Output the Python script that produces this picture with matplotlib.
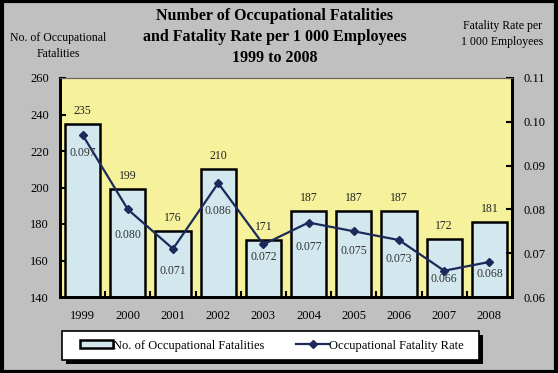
import matplotlib
matplotlib.use("Agg")
import matplotlib.pyplot as plt
from matplotlib.patches import Rectangle
from matplotlib.ticker import FormatStrFormatter

years = ["1999", "2000", "2001", "2002", "2003", "2004", "2005", "2006", "2007", "2008"]
fatalities = [235, 199, 176, 210, 171, 187, 187, 187, 172, 181]
rates = [0.097, 0.080, 0.071, 0.086, 0.072, 0.077, 0.075, 0.073, 0.066, 0.068]

# label offsets below each rate point (pixels), as placed in the original
rate_label_dy = [18, 26, 22, 28, 13, 24, 20, 19, 8, 12]

plt.rcParams["font.family"] = ["Liberation Serif", "DejaVu Serif"]

BG = "#C0C0C0"
PLOT_BG = "#F6F29C"
BAR = "#D2E8EE"
LINE = "#1B2A5A"

fig = plt.figure(figsize=(5.58, 3.73), dpi=100, facecolor=BG)
W, H = 558, 373

ax = fig.add_axes([60 / W, 1 - 297 / H, 452 / W, 219 / H])
ax.set_facecolor(PLOT_BG)

x = list(range(len(years)))
ax.bar(x, fatalities, width=0.78, color=BAR, edgecolor="black", linewidth=1.8, zorder=2)
ax.set_xlim(-0.5, len(years) - 0.5)
ax.set_ylim(140, 260)
ax.set_yticks(range(140, 261, 20))
ax.set_xticks([i + 0.5 for i in x[:-1]])
ax.set_xticklabels([])
ax.tick_params(axis="x", direction="in", length=4, width=1.5)
ax.tick_params(axis="y", direction="in", length=4, width=1.5, labelsize=9, pad=8)
for i, y in enumerate(years):
    ax.text(i, -0.06, y, transform=ax.get_xaxis_transform(), ha="center", va="top", fontsize=9)

for i, v in enumerate(fatalities):
    ax.annotate(str(v), (i, v), xytext=(0, 5), textcoords="offset points",
                ha="center", va="bottom", fontsize=8.5, color="#222222")

ax2 = ax.twinx()
ax2.plot(x, rates, color=LINE, linewidth=1.6, marker="D", markersize=4.5, zorder=3)
ax2.set_ylim(0.06, 0.11)
ax2.set_yticks([0.06, 0.07, 0.08, 0.09, 0.10, 0.11])
ax2.yaxis.set_major_formatter(FormatStrFormatter("%.2f"))
ax2.tick_params(axis="y", direction="in", length=4, width=1.5, labelsize=9, pad=8)
for i, v in enumerate(rates):
    ax2.annotate(f"{v:.3f}", (i, v), xytext=(0, -rate_label_dy[i] * 0.72),
                 textcoords="offset points", ha="center", va="center",
                 fontsize=8.5, color="#333333")

for a in (ax, ax2):
    for side in ("left", "right", "bottom"):
        a.spines[side].set_linewidth(2)
    a.spines["top"].set_color("#666666")
    a.spines["top"].set_linewidth(0.8)

fig.text(275 / W, 1 - 37 / H, "Number of Occupational Fatalities\nand Fatality Rate per 1 000 Employees\n1999 to 2008",
         ha="center", va="center", fontsize=11.5, fontweight="bold", linespacing=1.4)
fig.text(58 / W, 1 - 46 / H, "No. of Occupational\nFatalities", ha="center", va="center",
         fontsize=8.5, linespacing=1.5)
fig.text(502 / W, 1 - 34 / H, "Fatality Rate per\n1 000 Employees", ha="center", va="center",
         fontsize=8.5, linespacing=1.45)

# legend box with black drop shadow
lx0, ly0, lx1, ly1 = 62, 331, 479, 360
fig.patches.append(Rectangle(((lx0 + 4) / W, 1 - (ly1 + 4) / H), (lx1 - lx0) / W, (ly1 - ly0) / H,
                             transform=fig.transFigure, facecolor="black", edgecolor="none"))
fig.patches.append(Rectangle((lx0 / W, 1 - ly1 / H), (lx1 - lx0) / W, (ly1 - ly0) / H,
                             transform=fig.transFigure, facecolor="white", edgecolor="black",
                             linewidth=1.2))

h1 = Rectangle((0, 0), 1, 1, facecolor=BAR, edgecolor="black", linewidth=1.8)
h2, = ax2.plot([], [], color=LINE, linewidth=1.6, marker="D", markersize=4)
fig.legend([h1, h2], ["No. of Occupational Fatalities", "Occupational Fatality Rate"],
           loc="center", bbox_to_anchor=(80 / W, 1 - 360 / H, 384 / W, 29 / H),
           mode="expand", ncol=2, fontsize=9, frameon=False, handlelength=2.6,
           handleheight=0.55, handletextpad=0.05, borderaxespad=0, borderpad=0,
           columnspacing=3)

fig.patches.append(Rectangle((0.003, 0.004), 0.994, 0.992, transform=fig.transFigure,
                             fill=False, edgecolor="black", linewidth=3))

fig.savefig("out.png", dpi=100, facecolor=BG)
